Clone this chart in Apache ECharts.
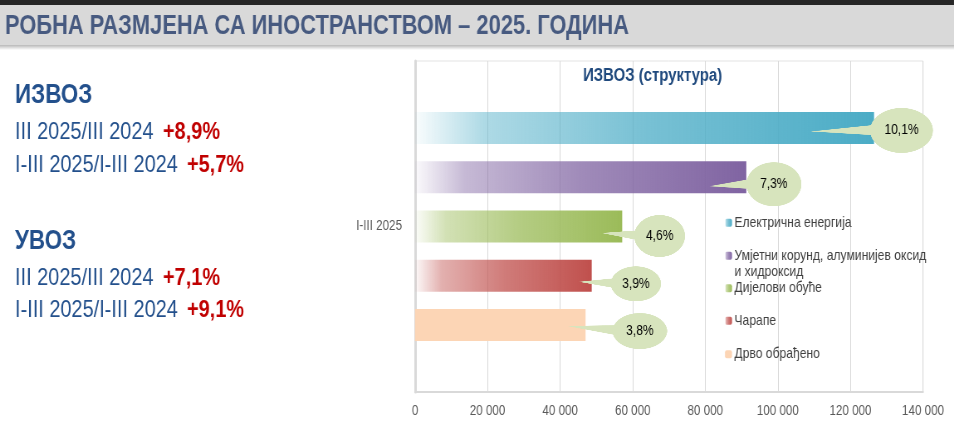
<!DOCTYPE html>
<html>
<head>
<meta charset="utf-8">
<script src="https://cdn.jsdelivr.net/npm/echarts@6/dist/echarts.min.js"></script>
<style>
  html, body { margin: 0; padding: 0; background: #fff; overflow: hidden; }
  #wrap { width: 954px; height: 427px; overflow: hidden; }
  /* оригинал је сужен по ширини, па и графикон сужавамо */
  #main { width: 1149px; height: 427px; transform: scaleX(0.8303); transform-origin: 0 0; }
</style>
</head>
<body>
<div id="wrap"><div id="main"></div></div>
<script>
// подаци
var categories = ['I-III 2025'];
var products = ['Електрична енергија', 'Умјетни корунд, алуминијев оксид и хидроксид', 'Дијелови обуће', 'Чарапе', 'Дрво обрађено'];
var exportValues = [126500, 91300, 57100, 48700, 47000];
var shares = ['10,1%', '7,3%', '4,6%', '3,9%', '3,8%'];
var xTicks = [0, 20000, 40000, 60000, 80000, 100000, 120000, 140000];

var headings = ['ИЗВОЗ', 'УВОЗ'];
var periods = ['III 2025/III 2024', 'I-III 2025/I-III 2024'];
var exportGrowth = ['+8,9%', '+5,7%'];
var importGrowth = ['+7,1%', '+9,1%'];
var pageTitle = 'РОБНА РАЗМЈЕНА СА ИНОСТРАНСТВОМ – 2025. ГОДИНА';

var K = 0.8303; // сужење по x
function px(x) { return x / K; }

var FONT = '"Liberation Sans", Arial, sans-serif';
var colors = ['#4BACC6', '#8064A2', '#9BBB59', '#C0504D', '#FCD5B5'];

// облачићи: дужина репа, колико реп улази у траку, полуосе, помак по y
var callouts = [
    { tail: 59, inside: 63, rx: 31.5, ry: 22.5, dy: 2.5, tipDy: 1 },
    { tail: 37, inside: 37, rx: 27.5, ry: 22, dy: 7, tipDy: 2 },
    { tail: 33, inside: 21, rx: 25.5, ry: 21, dy: 9.5, tipDy: -3 },
    { tail: 32, inside: 13, rx: 25.2, ry: 17.5, dy: 8, tipDy: -2 },
    { tail: 45, inside: 18, rx: 27.3, ry: 18, dy: 6, tipDy: -5 }
];

function rgba(hex, a) {
    var n = parseInt(hex.slice(1), 16);
    return 'rgba(' + (n >> 16) + ',' + ((n >> 8) & 255) + ',' + (n & 255) + ',' + a + ')';
}

function fillFor(i) {
    var c = colors[i];
    if (i === 4) return c;
    return new echarts.graphic.LinearGradient(0, 0, 1, 0, [
        { offset: 0, color: rgba(c, 0.03) },
        { offset: 0.15, color: rgba(c, 0.45) },
        { offset: 0.5, color: rgba(c, 0.75) },
        { offset: 1, color: c }
    ]);
}

function makeCallout(g) {
    var s = 3;
    var tail = px(g.tail), rx = px(g.rx);
    var w = tail + 2 * rx, h = 2 * g.ry;
    var cv = document.createElement('canvas');
    cv.width = Math.round(w * s);
    cv.height = Math.round(h * s);
    var ctx = cv.getContext('2d');
    ctx.scale(s, s);
    ctx.fillStyle = '#D7E4BD';
    var cx = tail + rx, cy = g.ry;
    ctx.beginPath();
    ctx.moveTo(0, cy + g.tipDy);
    ctx.lineTo(tail + 10, cy - 6);
    ctx.lineTo(tail + 10, cy + 5);
    ctx.closePath();
    ctx.fill();
    ctx.beginPath();
    ctx.ellipse(cx, cy, rx, g.ry, 0, 0, Math.PI * 2);
    ctx.fill();
    return cv;
}

function textWidth(text, font) {
    var ctx = document.createElement('canvas').getContext('2d');
    ctx.font = font;
    return ctx.measureText(text).width;
}

var myChart = echarts.init(document.getElementById('main'));

var series = products.map(function (name, i) {
    var g = callouts[i];
    return {
        name: name,
        type: 'bar',
        data: [exportValues[i]],
        barWidth: 32,
        barGap: '54%',
        itemStyle: { color: fillFor(i) },
        emphasis: { disabled: true },
        label: {
            show: true,
            position: 'right',
            distance: 0,
            offset: [-px(g.inside), g.dy],
            padding: [0, 0, 0, px(g.tail)],
            backgroundColor: { image: makeCallout(g) },
            formatter: function () { return '{t|' + shares[i] + '}'; },
            rich: {
                t: {
                    width: 2 * px(g.rx),
                    height: 2 * g.ry,
                    lineHeight: 2 * g.ry,
                    align: 'center',
                    verticalAlign: 'middle',
                    fontFamily: FONT,
                    fontSize: 14.5,
                    color: '#000'
                }
            }
        }
    };
});

var legendTops = [214.5, 231, 280, 312.5, 346];
var legends = products.map(function (name, i) {
    return {
        data: [name],
        orient: 'vertical',
        left: px(725),
        top: legendTops[i],
        padding: 0,
        itemWidth: px(7),
        itemHeight: 8,
        itemGap: 5,
        selectedMode: false,
        textStyle: { fontFamily: FONT, fontSize: 14.6, color: '#404040', lineHeight: 16.5, padding: [0, 0, 0, -2] },
        formatter: function (n) {
            return n.indexOf('оксид ') > 0 ? ' \n' + n.replace('оксид ', 'оксид\n') : n;
        }
    };
});

// наслов и лијеви текст
var titleFont = 'bold 28px ' + FONT;
var titleScale = px(624) / textWidth(pageTitle, titleFont);
var leftBlue = '#23508C';
var red = '#C00000';
var graphics = [
    { type: 'rect', shape: { x: 0, y: 0, width: px(954), height: 5 }, style: { fill: '#262626' } },
    { type: 'rect', shape: { x: 0, y: 5, width: px(954), height: 40 }, style: { fill: '#D9D9D9' } },
    {
        type: 'rect', shape: { x: 0, y: 45, width: px(954), height: 5 },
        style: { fill: new echarts.graphic.LinearGradient(0, 0, 0, 1, [
            { offset: 0, color: 'rgba(0,0,0,0.28)' }, { offset: 1, color: 'rgba(0,0,0,0)' }]) }
    },
    {
        type: 'text', x: px(5), y: 26, scaleX: titleScale,
        style: { text: pageTitle, font: titleFont, fill: '#475A80', verticalAlign: 'middle' }
    }
];

var blockY = [96, 242];
var lineY = [[132, 165], [278.5, 310]];
var growth = [exportGrowth, importGrowth];
var growthX = [163, 187];
headings.forEach(function (h, b) {
    graphics.push({
        type: 'text', x: px(15), y: blockY[b],
        style: { text: h, font: 'bold 27px ' + FONT, fill: leftBlue, verticalAlign: 'middle' }
    });
    periods.forEach(function (p, k) {
        graphics.push({
            type: 'text', x: px(15), y: lineY[b][k],
            style: { text: p, font: '24px ' + FONT, fill: leftBlue, verticalAlign: 'middle' }
        });
        graphics.push({
            type: 'text', x: px(growthX[k]), y: lineY[b][k],
            style: { text: growth[b][k], font: 'bold 24px ' + FONT, fill: red, verticalAlign: 'middle' }
        });
    });
});

var option = {
    animation: false,
    title: {
        text: '{b|ИЗВОЗ} {n|(структура)}',
        left: px(583),
        top: 67,
        padding: 0,
        textStyle: {
            rich: {
                b: { fontFamily: FONT, fontSize: 18, fontWeight: 'bold', color: '#1F497D' },
                n: { fontFamily: FONT, fontSize: 18, color: '#1F497D' }
            }
        }
    },
    legend: legends,
    grid: {
        left: px(415), right: px(954) - px(923), top: 61, bottom: 35,
        show: true, borderColor: '#E3E3E3', borderWidth: 1
    },
    xAxis: {
        type: 'value',
        min: xTicks[0],
        max: xTicks[xTicks.length - 1],
        interval: xTicks[1] - xTicks[0],
        axisLine: { show: true, lineStyle: { color: '#D9D9D9', width: 2 } },
        axisTick: { show: false },
        splitLine: { show: true, lineStyle: { color: '#D9D9D9', width: 1 } },
        axisLabel: {
            margin: 12,
            fontFamily: FONT,
            fontSize: 14,
            color: '#595959',
            formatter: function (v) { return String(v).replace(/\B(?=(\d{3})+(?!\d))/g, ' '); }
        }
    },
    yAxis: {
        type: 'category',
        data: categories,
        axisLine: { show: true, lineStyle: { color: '#D9D9D9', width: 3 } },
        axisTick: { show: false },
        splitLine: { show: false },
        axisLabel: { margin: px(13), fontFamily: FONT, fontSize: 14, color: '#595959' }
    },
    graphic: graphics,
    series: series
};

myChart.setOption(option);
</script>
</body>
</html>
